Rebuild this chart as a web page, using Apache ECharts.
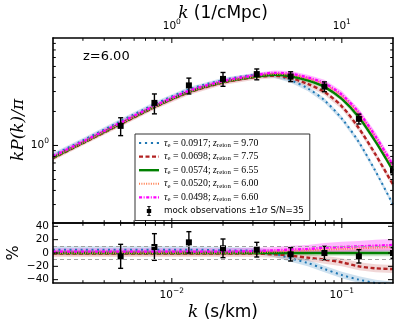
<!DOCTYPE html>
<html>
<head>
<meta charset="utf-8">
<script src="https://cdn.jsdelivr.net/npm/echarts@6/dist/echarts.min.js"></script>
<style>
  html, body { margin: 0; padding: 0; background: #fff; }
  #chart { width: 399px; height: 327px; }
</style>
</head>
<body>
<div id="chart"></div>
<script>
// k (s/km) where the model curves are sampled
var kModel = [0.002, 0.003, 0.005, 0.008, 0.0126, 0.02, 0.0316, 0.04, 0.05, 0.063, 0.079, 0.1, 0.126, 0.158, 0.2];

// kP(k)/pi of the five models (upper panel)
var pBlue    = [0.82, 1.11, 1.64, 2.33, 3.13, 3.79, 4.20, 4.18, 3.77, 3.20, 2.51, 1.73, 1.07, 0.59, 0.30];
var pRed     = [0.77, 1.05, 1.54, 2.20, 2.95, 3.60, 4.04, 4.14, 3.94, 3.50, 2.97, 2.22, 1.42, 0.83, 0.45];
var pGreen   = [0.78, 1.06, 1.56, 2.22, 2.98, 3.64, 4.08, 4.22, 4.10, 3.76, 3.30, 2.58, 1.78, 1.08, 0.60];
var pOrange  = [0.78, 1.06, 1.56, 2.22, 2.98, 3.64, 4.12, 4.30, 4.22, 3.91, 3.47, 2.73, 1.90, 1.17, 0.65];
var pMagenta = [0.80, 1.08, 1.59, 2.26, 3.04, 3.71, 4.20, 4.39, 4.31, 3.99, 3.56, 2.81, 1.96, 1.20, 0.67];

// difference to the fiducial model in % (lower panel)
var rBlue    = [5, 5, 5, 5, 5, 4, 3, -1, -8, -15, -24, -33, -40, -45, -48];
var rRed     = [-1, -1, -1, -1, -1, -1, -1, -2, -4, -7, -10, -14, -20, -23, -24];
var rGreen   = [0, 0, 0, 0, 0, 0, 0, 0, 0, 0, 0, 0, 0, 0, 0];
var rOrange  = [0, 0, 0, 0, 0, 0, 1, 2, 3, 4, 5, 6, 7, 8, 9];
var rMagenta = [2, 2, 2, 2, 2, 2, 3, 4, 5, 6, 8, 9, 10, 11, 12];

// half width of the shaded bands, in %
var wBlue    = [5, 5, 5, 5, 5, 5, 5, 5, 5, 5, 5, 5, 5, 5, 5];
var wRed     = [5, 5, 5, 5, 5, 5, 5, 5, 5, 5, 6, 6, 6, 6, 6];
var wGreen   = [3, 3, 3, 3, 3, 3, 3, 3, 3, 4, 4, 4, 5, 5, 5];
var wOrange  = [4, 4, 4, 4, 4, 4, 4, 4, 4, 4, 4, 4, 4, 4, 4];
var wMagenta = [5, 5, 5, 5, 5, 5, 5, 5, 6, 6, 7, 8, 8, 9, 9];

// mock observations
var kObs   = [0.005, 0.0079, 0.0126, 0.02, 0.0316, 0.05, 0.079, 0.126, 0.2];
var pObs   = [1.49, 2.38, 3.40, 3.88, 4.28, 4.08, 3.32, 1.72, 0.60];
var errObs = [18, 20, 16, 14, 11, 10, 10, 10, 8];
var rObs   = [-5, 9, 16, 7, 5, -2, 0, -5, 0];

// axes
var kRange = [0.002, 0.2];
var kMpcRange = [0.2, 20];
var kMpcPerSkm = 100;
var pRange = [0.206, 8.93];
var rRange = [-45, 45];
var rTicks = [-40, -20, 0, 20, 40];
var rGuides = [10, -10];

var names = ['m1', 'm2', 'm3', 'm4', 'm5'];
var legendText = {
  m1: '{i|τ}{s|e}{t| = 0.0917; }{i|z}{s|reion}{t| = 9.70}',
  m2: '{i|τ}{s|e}{t| = 0.0698; }{i|z}{s|reion}{t| = 7.75}',
  m3: '{i|τ}{s|e}{t| = 0.0574; }{i|z}{s|reion}{t| = 6.55}',
  m4: '{i|τ}{s|e}{t| = 0.0520; }{i|z}{s|reion}{t| = 6.00}',
  m5: '{i|τ}{s|e}{t| = 0.0498; }{i|z}{s|reion}{t| = 6.60}',
  mock: '{ms|mock observations ±1}{mi|σ}{ms| S/N=35}'
};
var colors = ['#1f77b4', '#b22222', '#008000', '#ff7f50', '#ff00ff'];
var bandColors = ['rgba(31,119,180,0.22)', 'rgba(178,34,34,0.18)', 'rgba(0,128,0,0.22)', 'rgba(255,127,80,0.2)', 'rgba(255,0,255,0.28)'];
var dashes = [[2, 3.5], [4, 2.5], 'solid', [1, 1.3], [3, 1.5, 1, 1.5]];
var widths = [2, 2.4, 2.4, 2, 2.4];

var pModels = [pBlue, pRed, pGreen, pOrange, pMagenta];
var rModels = [rBlue, rRed, rGreen, rOrange, rMagenta];
var wModels = [wBlue, wRed, wGreen, wOrange, wMagenta];

var chart = echarts.init(document.getElementById('chart'));

// legend handles: short line pieces copying each dash pattern (20 x h box)
function dashIcon(dash, h) {
  var pat = typeof dash === 'string' ? [20, 0] : dash, x = 0, d = '', k = 0;
  while (x < 20) {
    var len = Math.min(pat[k % pat.length], 20 - x);
    if (k % 2 === 0 && len > 0) d += 'M' + x + ',0h' + len + 'v' + h + 'h' + (-len) + 'z';
    x += pat[k % pat.length];
    k++;
  }
  return 'path://' + d;
}

// tick positions of a log axis: decades or the 2..9 in between
function logTickValues(range, minor) {
  var out = [];
  var e0 = Math.floor(Math.log10(range[0])), e1 = Math.ceil(Math.log10(range[1]));
  for (var e = e0; e <= e1; e++) {
    for (var m = minor ? 2 : 1; m <= (minor ? 9 : 1); m++) {
      var v = m * Math.pow(10, e);
      if (v > range[0] * 1.001 && v < range[1] * 0.999) out.push(v);
    }
  }
  return out;
}
function lg(r) { return [Math.log10(r[0]), Math.log10(r[1])]; }
function lgList(a) { return a.map(function (v) { return Math.round(Math.log10(v)); }); }

var richTick = {
  sup: {fontSize: 7.5, fontFamily: 'DejaVu Sans', color: '#000', verticalAlign: 'top', lineHeight: 10}
};
function powFmt(v) { return '10{sup|' + String(v).replace('-', '−') + '}'; }

// value axes that only carry the frame line and the tick labels
function labelAxis(grid, pos, range, labelVals, fmt, lineH) {
  return {
    type: 'value', gridIndex: grid, position: pos, min: range[0], max: range[1], z: 5, silent: true,
    axisLine: {show: true, onZero: false, lineStyle: {color: '#000', width: 1.6}},
    axisTick: {show: false},
    splitLine: {show: false},
    axisLabel: labelVals ? {show: true, customValues: labelVals, formatter: fmt, margin: 4, color: '#000',
      showMinLabel: true, showMaxLabel: true, hideOverlap: false, interval: 0,
      fontFamily: 'DejaVu Sans', fontSize: 10.5, lineHeight: lineH || 16, rich: richTick} : {show: false}
  };
}

var xAxes = [
  {type: 'log', gridIndex: 0, min: kRange[0], max: kRange[1], show: false},
  {type: 'log', gridIndex: 1, min: kRange[0], max: kRange[1], show: false},
  labelAxis(0, 'bottom', lg(kRange)),
  labelAxis(0, 'top', lg(kMpcRange), lgList(logTickValues(kMpcRange, false)), powFmt),
  labelAxis(1, 'top', lg(kRange)),
  labelAxis(1, 'bottom', lg(kRange), lgList(logTickValues(kRange, false)), powFmt)
];
var yAxes = [
  {type: 'log', gridIndex: 0, min: pRange[0], max: pRange[1], show: false},
  {type: 'value', gridIndex: 1, min: rRange[0], max: rRange[1], show: false},
  labelAxis(0, 'left', lg(pRange), lgList(logTickValues(pRange, false)), powFmt),
  labelAxis(0, 'right', lg(pRange)),
  labelAxis(1, 'left', rRange, rTicks, function (v) { return String(v).replace('-', '−'); }, 10),
  labelAxis(1, 'right', rRange)
];

// inward tick marks drawn through the data axes of a panel
function tickSeries(panel, dim, vals, len, sides) {
  var ref = panel === 0 ? 1 : 0;
  return {
    type: 'custom', xAxisIndex: panel, yAxisIndex: panel, silent: true, z: 6, clip: false,
    data: vals.map(function (v) { return dim === 'x' ? [v, ref] : [0.01, v]; }),
    renderItem: function (params, api) {
      var cs = params.coordSys, kids = [];
      var p = api.coord([api.value(0), api.value(1)]);
      var ls = {stroke: '#000', lineWidth: 1};
      sides.forEach(function (s) {
        var sh;
        if (s === 'top') sh = {x1: p[0], y1: cs.y, x2: p[0], y2: cs.y + len};
        else if (s === 'bottom') sh = {x1: p[0], y1: cs.y + cs.height, x2: p[0], y2: cs.y + cs.height - len};
        else if (s === 'left') sh = {x1: cs.x, y1: p[1], x2: cs.x + len, y2: p[1]};
        else sh = {x1: cs.x + cs.width, y1: p[1], x2: cs.x + cs.width - len, y2: p[1]};
        kids.push({type: 'line', shape: sh, style: ls});
      });
      return {type: 'group', children: kids};
    }
  };
}
function toSkm(a) { return a.map(function (v) { return v / kMpcPerSkm; }); }

function bandSeries(panel, color, pts) {
  return {
    type: 'custom', xAxisIndex: panel, yAxisIndex: panel, clip: true, silent: true, z: 1,
    itemStyle: {color: color},
    data: pts,
    renderItem: function (params, api) {
      if (params.dataIndexInside !== 0) return;
      var up = [], dn = [];
      for (var i = 0; i < params.dataInsideLength; i++) {
        up.push(api.coord([api.value(0, i), api.value(2, i)]));
        dn.unshift(api.coord([api.value(0, i), api.value(1, i)]));
      }
      return {type: 'polygon', shape: {points: up.concat(dn)}, style: {fill: color}};
    }
  };
}

function lineSeries(i, panel, vals) {
  return {
    type: 'line', name: names[i], xAxisIndex: panel, yAxisIndex: panel, z: 2 + i * 0.1,
    smooth: 0.3, showSymbol: false, symbol: 'circle', silent: true, clip: true,
    lineStyle: {color: colors[i], width: widths[i], type: dashes[i], cap: 'butt'},
    itemStyle: {color: colors[i]},
    data: kModel.map(function (k, j) { return [k, vals[j]]; })
  };
}

function mockSeries(panel, pts) {
  return {
    type: 'custom', name: 'mock', xAxisIndex: panel, yAxisIndex: panel, clip: true, silent: true, z: 4,
    itemStyle: {color: '#000'},
    data: pts,
    renderItem: function (params, api) {
      var c = api.coord([api.value(0), api.value(1)]);
      var a = api.coord([api.value(0), api.value(2)]);
      var b = api.coord([api.value(0), api.value(3)]);
      var ls = {stroke: '#000', lineWidth: 1.4};
      return {type: 'group', children: [
        {type: 'line', shape: {x1: a[0], y1: a[1], x2: b[0], y2: b[1]}, style: ls},
        {type: 'line', shape: {x1: a[0] - 2.5, y1: a[1], x2: a[0] + 2.5, y2: a[1]}, style: ls},
        {type: 'line', shape: {x1: b[0] - 2.5, y1: b[1], x2: b[0] + 2.5, y2: b[1]}, style: ls},
        {type: 'rect', shape: {x: c[0] - 3, y: c[1] - 3, width: 6, height: 6}, style: {fill: '#000'}}
      ]};
    }
  };
}

var series = [];
pModels.forEach(function (p, i) {
  series.push(bandSeries(0, bandColors[i], kModel.map(function (k, j) {
    return [k, p[j] * (1 - wModels[i][j] / 100), p[j] * (1 + wModels[i][j] / 100)];
  })));
  series.push(bandSeries(1, bandColors[i], kModel.map(function (k, j) {
    return [k, rModels[i][j] - wModels[i][j], rModels[i][j] + wModels[i][j]];
  })));
});
pModels.forEach(function (p, i) {
  series.push(lineSeries(i, 0, p));
  var s = lineSeries(i, 1, rModels[i]);
  if (i === 2) {
    s.markLine = {silent: true, symbol: 'none', label: {show: false},
      lineStyle: {color: '#a0a0a0', type: [4, 3], width: 1},
      data: rGuides.map(function (v) { return {yAxis: v}; })};
  }
  series.push(s);
});
series.push(mockSeries(0, kObs.map(function (k, j) {
  return [k, pObs[j], pObs[j] * (1 - errObs[j] / 100), pObs[j] * (1 + errObs[j] / 100)];
})));
series.push(mockSeries(1, kObs.map(function (k, j) {
  return [k, rObs[j], rObs[j] - errObs[j], rObs[j] + errObs[j]];
})));

// tick marks
series.push(tickSeries(0, 'x', logTickValues(kRange, false), 5, ['bottom']));
series.push(tickSeries(0, 'x', logTickValues(kRange, true), 2.8, ['bottom']));
series.push(tickSeries(0, 'x', toSkm(logTickValues(kMpcRange, false)), 5, ['top']));
series.push(tickSeries(0, 'x', toSkm(logTickValues(kMpcRange, true)), 2.8, ['top']));
series.push(tickSeries(0, 'y', logTickValues(pRange, false), 5, ['left', 'right']));
series.push(tickSeries(0, 'y', logTickValues(pRange, true), 2.8, ['left', 'right']));
series.push(tickSeries(1, 'x', logTickValues(kRange, false), 5, ['top', 'bottom']));
series.push(tickSeries(1, 'x', logTickValues(kRange, true), 2.8, ['top', 'bottom']));
series.push(tickSeries(1, 'y', rTicks, 5, ['left', 'right']));

var serif = 'Liberation Serif';
var option = {
  animation: false,
  grid: [
    {left: 53, right: 6, top: 38, height: 185},
    {left: 53, right: 6, top: 223, height: 60}
  ],
  xAxis: xAxes,
  yAxis: yAxes,
  legend: {
    left: 135, top: 134, orient: 'vertical', itemWidth: 20, itemHeight: 10, itemGap: 2.6,
    padding: [3.5, 6, 4, 4], backgroundColor: 'rgba(255,255,255,0.85)', borderColor: '#333', borderWidth: 1,
    selectedMode: false, symbolKeepAspect: true,
    data: names.map(function (n, i) {
      return {name: n, icon: dashIcon(dashes[i], i === 1 || i === 2 ? 2.4 : 2), itemStyle: {color: colors[i]}};
    }).concat([{
      name: 'mock', itemStyle: {color: '#000'},
      icon: 'path://M4.4,0H5.6V3H7.2V7H5.6V10H4.4V7H2.8V3H4.4ZM3.2,0H6.8V0.8H3.2ZM3.2,9.2H6.8V10H3.2Z'
    }]),
    formatter: function (n) { return legendText[n]; },
    textStyle: {
      color: '#000', fontFamily: serif, fontSize: 9.8, lineHeight: 11,
      rich: {
        i: {fontFamily: serif, fontStyle: 'italic', fontSize: 9.8, lineHeight: 11},
        t: {fontFamily: serif, fontSize: 9.8, lineHeight: 11},
        s: {fontFamily: serif, fontSize: 6.8, verticalAlign: 'bottom', lineHeight: 5},
        ms: {fontFamily: 'DejaVu Sans', fontSize: 8.7, lineHeight: 11},
        mi: {fontFamily: 'DejaVu Serif', fontStyle: 'italic', fontSize: 8.7, lineHeight: 11}
      }
    }
  },
  graphic: [
    {type: 'text', x: 223, y: 14, style: {
      text: '{i|k} (1/cMpc)', fill: '#000', font: '17px "DejaVu Sans"', align: 'center', verticalAlign: 'middle',
      rich: {i: {fontFamily: 'DejaVu Serif', fontStyle: 'italic', fontSize: 17}}}},
    {type: 'text', x: 223, y: 313, style: {
      text: '{i|k} (s/km)', fill: '#000', font: '17px "DejaVu Sans"', align: 'center', verticalAlign: 'middle',
      rich: {i: {fontFamily: 'DejaVu Serif', fontStyle: 'italic', fontSize: 17}}}},
    {type: 'text', x: 19, y: 130, rotation: Math.PI / 2, style: {
      text: 'kP(k)/π', fill: '#000', font: 'italic 17px "DejaVu Serif"', align: 'center', verticalAlign: 'middle'}},
    {type: 'text', x: 14, y: 253, rotation: Math.PI / 2, style: {
      text: '%', fill: '#000', font: '16px "DejaVu Sans"', align: 'center', verticalAlign: 'middle'}},
    {type: 'text', x: 83, y: 57, style: {
      text: 'z=6.00', fill: '#000', font: '13px "DejaVu Sans"', align: 'left', verticalAlign: 'middle'}}
  ],
  series: series
};
chart.setOption(option);
</script>
</body>
</html>
